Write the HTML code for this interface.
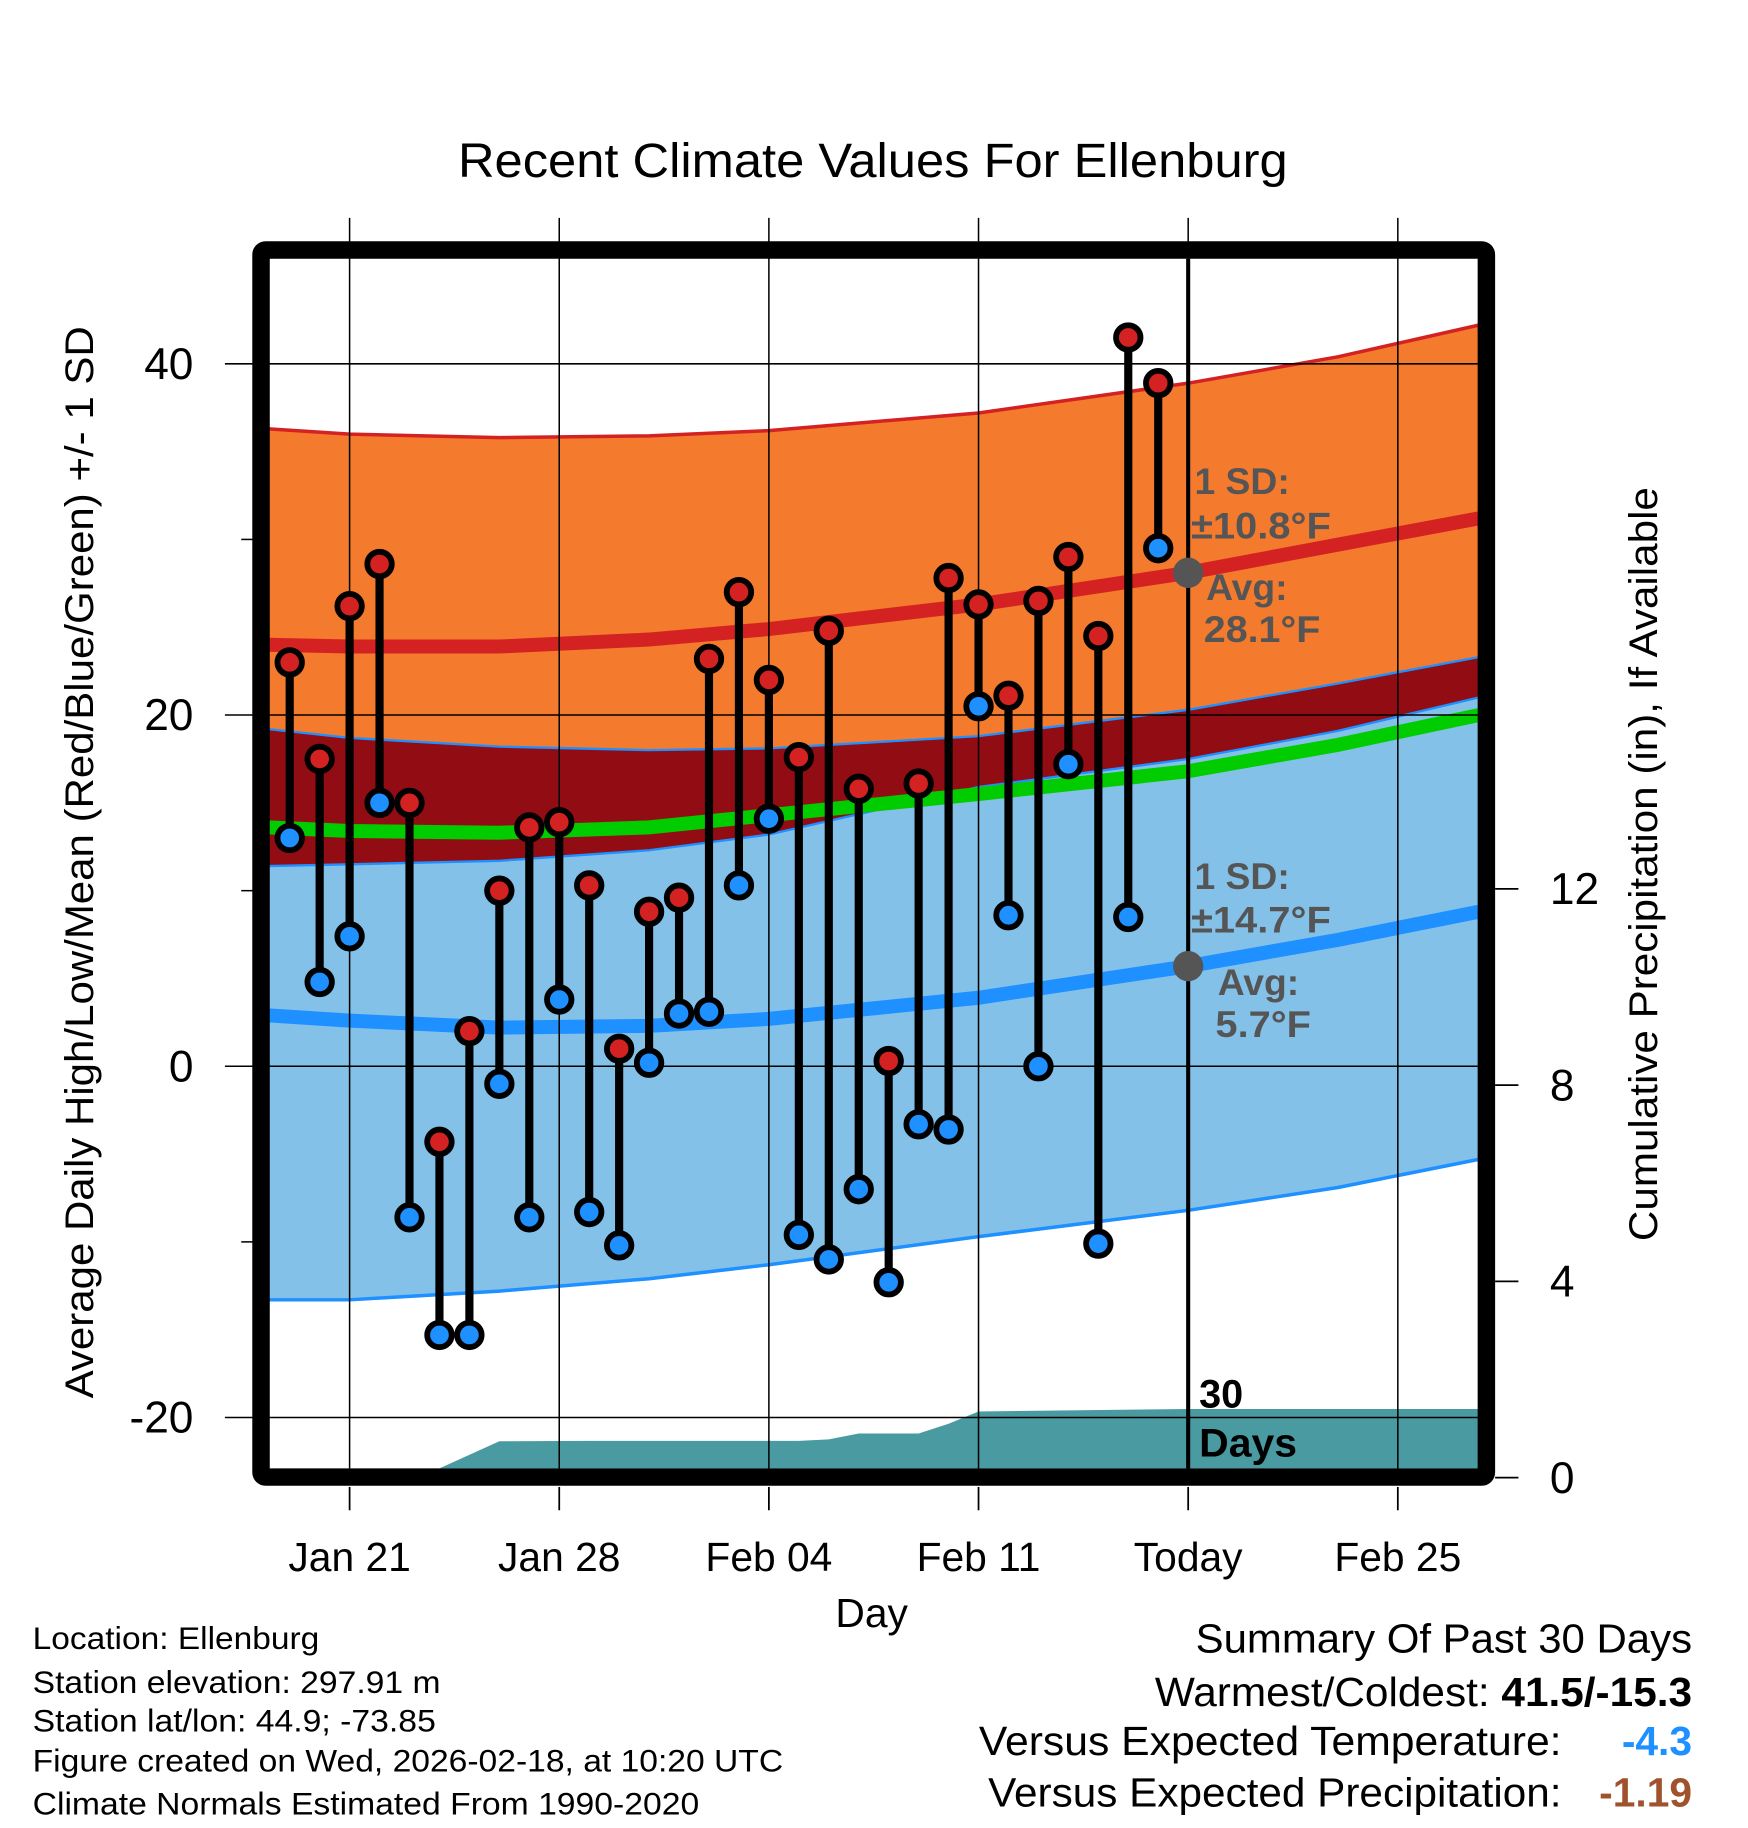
<!DOCTYPE html>
<html><head><meta charset="utf-8"><style>
html,body{margin:0;padding:0;background:#fff}
svg{display:block}
text{font-family:"Liberation Sans",sans-serif}
</style></head><body>
<svg id="chart" width="1748" height="1828" viewBox="0 0 1500 1568.65" xmlns="http://www.w3.org/2000/svg">
<g id="bands"></g>
<g id="grid"></g>
<g id="marks"></g>
<g id="frame"></g>
<g id="labels"></g>
</svg>
<script>
// ---- data ----
const dayOffsets = [-2,-1,0,1,2,3,4,5,6,7,8,9,10,11,12,13,14,15,16,17,18,19,20,21,22,23,24,25,26,27];
const highs = [23,17.5,26.2,28.6,15,-4.3,2,10,13.6,13.9,10.3,1,8.8,9.6,23.2,27,22,17.6,24.8,15.8,0.3,16.1,27.8,26.3,21.1,26.5,29,24.5,41.5,38.9];
const lows = [13,4.8,7.4,15,-8.6,-15.3,-15.3,-1,-8.6,3.8,-8.3,-10.2,0.2,3,3.1,10.3,14.1,-9.6,-11,-7,-12.3,-3.3,-3.6,20.5,8.6,0,17.2,-10.1,8.5,29.5];
const normDays = [-2.7,0,5,10,14,21,28,33,37.7];
const normHighPlus = [36.3,36.0,35.8,35.9,36.2,37.2,38.9,40.4,42.2];
const normHigh = [24.0,23.9,23.9,24.3,24.9,26.3,28.1,29.7,31.2];
const normHighMinus = [19.2,18.7,18.2,18.0,18.1,18.8,20.3,21.8,23.3];
const redBottom = [11.4,11.5,11.7,12.3,13.2,15.9,17.5,19.1,21.0];
const blueTop = [11.4,11.5,11.7,12.3,13.2,15.9,17.5,19.1,21.0];
const normMean = [13.6,13.4,13.3,13.6,14.3,15.5,16.8,18.3,20.0];
const normLow = [2.9,2.6,2.2,2.3,2.7,3.9,5.7,7.2,8.8];
const normLowMinus = [-13.3,-13.3,-12.8,-12.1,-11.3,-9.7,-8.2,-6.9,-5.3];
const precipDays = [-2.7,3,5,8,15,16,17,19,20,21,28,37.7];
const precipVals = [0,0,0.74,0.75,0.75,0.78,0.9,0.9,1.1,1.35,1.4,1.4];
const xTickDays = [0,7,14,21,28,35];
const xTickLabels = ["Jan 21","Jan 28","Feb 04","Feb 11","Today","Feb 25"];
const yTicks = [40,20,0,-20];
const yMinor = [30,10,-10];
const pTicks = [0,4,8,12];

// ---- axes ----
const X = d => 300 + d*25.7;
const Y = v => 915 - v*15.07;
const P = p => 1268 - p*42.1;
const L=231,R=1268,T=222,B=1260;
const NS="http://www.w3.org/2000/svg";
function mk(tag,attrs,parent){const e=document.createElementNS(NS,tag);for(const k in attrs)e.setAttribute(k,attrs[k]);parent.appendChild(e);return e;}
const bands=document.getElementById('bands'),grid=document.getElementById('grid'),marks=document.getElementById('marks'),frame=document.getElementById('frame'),labels=document.getElementById('labels');
function linePts(arr){return normDays.map((d,i)=>X(d).toFixed(1)+','+Y(arr[i]).toFixed(1));}
function band(top,bot,fill,name){
  const pts=linePts(top).concat(linePts(bot).reverse());
  const e=mk('polygon',{points:pts.join(' '),fill:fill},bands);
  
  
}
function curve(arr,color,w,name){
  const e=mk('polyline',{points:linePts(arr).join(' '),fill:'none',stroke:color,'stroke-width':w},bands);
  
  
}
band(normHighPlus,normHighMinus,'#f47a2e','high-sd-band');
band(normHighMinus,redBottom,'#920c14','overlap-band');
band(blueTop,normLowMinus,'#84c1e8','low-sd-band');
curve(normHighPlus,'#d42222',3,'high-plus-sd-line');
curve(normHighMinus,'#1e90ff',2,'high-minus-sd-line');
curve(normLowMinus,'#1e90ff',3,'low-minus-sd-line');
curve(blueTop,'#1e90ff',2,'low-plus-sd-line');
curve(normMean,'#00cc00',12,'normal-mean-line');
curve(normHigh,'#d42222',12,'normal-high-line');
curve(normLow,'#1e90ff',12,'normal-low-line');
// precip
{
  let pts=precipDays.map((d,i)=>X(Math.max(d,-2.7)).toFixed(1)+','+Math.min(P(precipVals[i]),B).toFixed(1));
  pts.push(X(37.7)+','+B, X(-2.7)+','+B);
  const e=mk('polygon',{points:pts.join(' '),fill:'#4a9aa1'},bands);
  
  
}
// grid
xTickDays.forEach(d=>{
  mk('line',{x1:X(d),x2:X(d),y1:187,y2:B,stroke:'#000','stroke-width':1.3},grid);
  mk('line',{x1:X(d),x2:X(d),y1:1276,y2:1296,stroke:'#000','stroke-width':1.5},grid);
});
yTicks.forEach(v=>mk('line',{x1:193,x2:R,y1:Y(v),y2:Y(v),stroke:'#000','stroke-width':1.3},grid));
yMinor.forEach(v=>mk('line',{x1:207,x2:217,y1:Y(v),y2:Y(v),stroke:'#000','stroke-width':1.3},grid));
pTicks.forEach(p=>mk('line',{x1:1283,x2:1303,y1:P(p),y2:P(p),stroke:'#000','stroke-width':1.5},grid));
mk('line',{x1:X(28),x2:X(28),y1:T,y2:B,stroke:'#000','stroke-width':3.5},grid);
// marks
dayOffsets.forEach((d,i)=>{
  const s=mk('line',{x1:X(d),x2:X(d),y1:Y(highs[i]),y2:Y(lows[i]),stroke:'#000','stroke-width':7},marks);
  
  
});
dayOffsets.forEach((d,i)=>{
  const h=mk('circle',{cx:X(d),cy:Y(highs[i]),r:10.5,fill:'#d42222',stroke:'#000','stroke-width':5},marks);
  
  
  const l=mk('circle',{cx:X(d),cy:Y(lows[i]),r:10.5,fill:'#1e90ff',stroke:'#000','stroke-width':5},marks);
  
  
});
// avg dots
[28.1,5.7].forEach(v=>{
  const c=mk('circle',{cx:X(28),cy:Y(v),r:13,fill:'#555'},marks);
  
  
});
// frame
{
  const f=mk('rect',{x:224,y:214.5,width:1051.5,height:1053,fill:'none',stroke:'#000','stroke-width':15,rx:4},frame);
  
  
}
// labels
function txt(s,x,y,attrs,name){
  const e=mk('text',Object.assign({x:x,y:y},attrs),labels);e.textContent=s;
  
  
  return e;
}
yTicks.forEach(v=>txt(String(v),166,Y(v)+13,{'font-size':38,'text-anchor':'end'},'y-tick-label'));
pTicks.forEach(p=>txt(String(p),1330,P(p)+13,{'font-size':38,'text-anchor':'start'},'precip-tick-label'));
xTickDays.forEach((d,i)=>txt(xTickLabels[i],X(d),1348,{'font-size':35,'text-anchor':'middle'},'x-tick-label'));
</script>
<svg style="position:absolute;left:0;top:0" width="1748" height="1828" viewBox="0 0 1500 1568.65" xmlns="http://www.w3.org/2000/svg">
<g font-family="Liberation Sans, sans-serif">
<text x="393" y="152" font-size="41" textLength="712" lengthAdjust="spacingAndGlyphs">Recent Climate Values For Ellenburg</text>
<text x="748" y="1396" font-size="35" text-anchor="middle">Day</text>
<text transform="translate(80,1200) rotate(-90)" font-size="34" textLength="920" lengthAdjust="spacingAndGlyphs">Average Daily High/Low/Mean (Red/Blue/Green) +/- 1 SD</text>
<text transform="translate(1422,1065) rotate(-90)" font-size="34" textLength="647" lengthAdjust="spacingAndGlyphs">Cumulative Precipitation (in), If Available</text>
<g font-weight="bold" font-size="32" fill="#555">
<text x="1025" y="424">1 SD:</text>
<text x="1022" y="462" textLength="120" lengthAdjust="spacingAndGlyphs">±10.8°F</text>
<text x="1035" y="515">Avg:</text>
<text x="1033" y="551" textLength="100" lengthAdjust="spacingAndGlyphs">28.1°F</text>
<text x="1025" y="763">1 SD:</text>
<text x="1022" y="800" textLength="120" lengthAdjust="spacingAndGlyphs">±14.7°F</text>
<text x="1045" y="854">Avg:</text>
<text x="1043" y="890" textLength="82" lengthAdjust="spacingAndGlyphs">5.7°F</text>
</g>
<text x="1029" y="1208" font-size="34" font-weight="bold">30</text>
<text x="1029" y="1250" font-size="34" font-weight="bold" textLength="84" lengthAdjust="spacingAndGlyphs">Days</text>
<g font-size="27">
<text x="28" y="1415" textLength="246" lengthAdjust="spacingAndGlyphs">Location: Ellenburg</text>
<text x="28" y="1453" textLength="350" lengthAdjust="spacingAndGlyphs">Station elevation: 297.91 m</text>
<text x="28" y="1486" textLength="346" lengthAdjust="spacingAndGlyphs">Station lat/lon: 44.9; -73.85</text>
<text x="28" y="1520" textLength="644" lengthAdjust="spacingAndGlyphs">Figure created on Wed, 2026-02-18, at 10:20 UTC</text>
<text x="28" y="1557" textLength="572" lengthAdjust="spacingAndGlyphs">Climate Normals Estimated From 1990-2020</text>
</g>
<g font-size="35">
<text x="1026" y="1418" textLength="426" lengthAdjust="spacingAndGlyphs">Summary Of Past 30 Days</text>
<text x="991" y="1464" textLength="461" lengthAdjust="spacingAndGlyphs">Warmest/Coldest: <tspan font-weight="bold">41.5/-15.3</tspan></text>
<text x="840" y="1506" textLength="500" lengthAdjust="spacingAndGlyphs">Versus Expected Temperature:</text>
<text x="1452" y="1506" font-weight="bold" fill="#1e90ff" text-anchor="end">-4.3</text>
<text x="848" y="1550" textLength="492" lengthAdjust="spacingAndGlyphs">Versus Expected Precipitation:</text>
<text x="1452" y="1550" font-weight="bold" fill="#a0522d" text-anchor="end">-1.19</text>
</g>
</g>
</svg>
</body></html>
